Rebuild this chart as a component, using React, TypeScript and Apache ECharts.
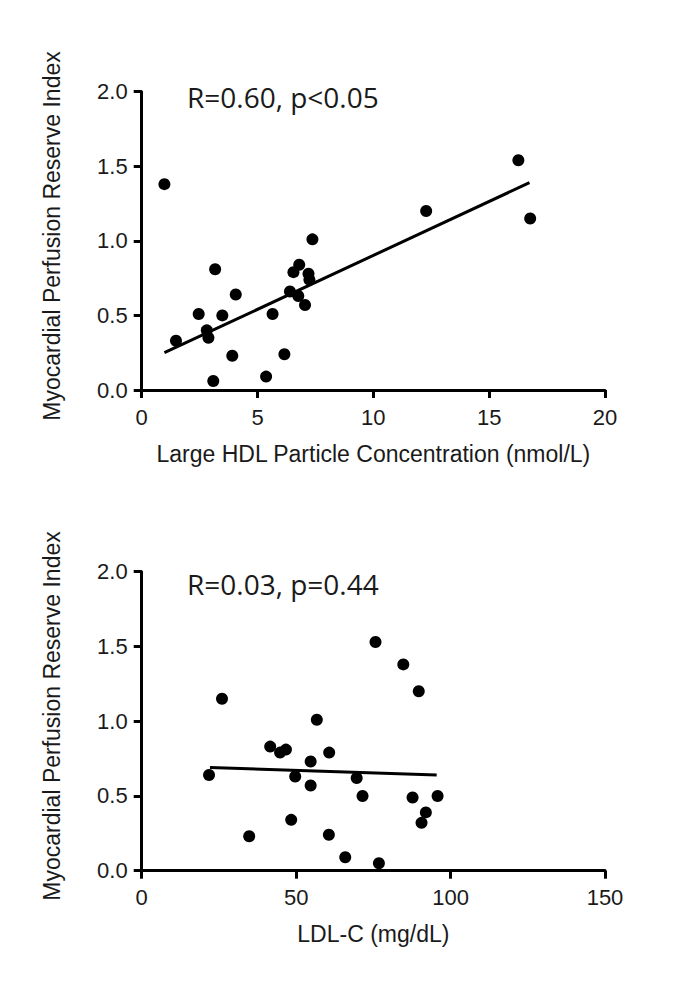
import React, { useEffect, useRef } from "react";
import * as echarts from "echarts";

const hdlX = [0.98, 1.48, 2.46, 2.81, 2.88, 3.17, 3.09, 3.48, 4.06, 3.91, 5.65, 5.37, 6.16, 6.40, 6.55, 6.80, 7.20, 7.24, 6.76, 7.05, 7.37, 12.28, 16.26, 16.77];
const hdlY = [1.38, 0.33, 0.51, 0.40, 0.35, 0.81, 0.06, 0.50, 0.64, 0.23, 0.51, 0.09, 0.24, 0.66, 0.79, 0.84, 0.78, 0.74, 0.63, 0.57, 1.01, 1.20, 1.54, 1.15];
const hdlFitX = [0.98, 16.74];
const hdlFitY = [0.25, 1.39];

const ldlX = [26.0, 21.8, 34.8, 41.6, 44.8, 46.7, 56.7, 48.4, 49.7, 54.7, 54.7, 60.7, 60.6, 65.9, 69.6, 71.5, 75.7, 76.8, 84.7, 89.7, 87.7, 92.0, 90.6, 95.8];
const ldlY = [1.15, 0.64, 0.23, 0.83, 0.79, 0.81, 1.01, 0.34, 0.63, 0.73, 0.57, 0.79, 0.24, 0.09, 0.62, 0.50, 1.53, 0.05, 1.38, 1.20, 0.49, 0.39, 0.32, 0.50];
const ldlFitX = [22.1, 95.5];
const ldlFitY = [0.69, 0.64];

const yTitle = "Myocardial Perfusion Reserve Index";
const xTitleTop = "Large HDL Particle Concentration (nmol/L)";
const xTitleBottom = "LDL-C (mg/dL)";
const statTop = "R=0.60, p<0.05";
const statBottom = "R=0.03, p=0.44";

const FONT = "'Liberation Sans', Arial, sans-serif";
const TXT = "#1a1a1a";

function zip(a: number[], b: number[]) {
  return a.map((v, i) => [v, b[i]]);
}

export default function App() {
  const ref = useRef<HTMLDivElement>(null);
  useEffect(() => {
    const chart = echarts.init(ref.current!, undefined, { renderer: "svg" });
    const axisLine = { show: true, lineStyle: { color: "#000", width: 3 } };
    const axisTick = { show: true, length: 8, lineStyle: { color: "#000", width: 3 } };
    const mkX = (gi: number, max: number, interval: number, name: string) => ({
      type: "value",
      gridIndex: gi,
      min: 0,
      max,
      interval,
      axisLine,
      axisTick,
      splitLine: { show: false },
      axisLabel: { color: TXT, fontFamily: FONT, fontSize: 22, margin: 16 },
      name,
      nameLocation: "middle",
      nameGap: 52,
      nameTextStyle: { color: TXT, fontFamily: FONT, fontSize: 23 },
    });
    const mkY = (gi: number) => ({
      type: "value",
      gridIndex: gi,
      min: 0,
      max: 2,
      interval: 0.5,
      axisLine,
      axisTick,
      splitLine: { show: false },
      axisLabel: {
        color: TXT,
        fontFamily: FONT,
        fontSize: 22,
        margin: 14,
        formatter: (v: number) => v.toFixed(1),
      },
    });
    chart.setOption({
      animation: false,
      backgroundColor: "#fff",
      grid: [
        { left: 141.7, top: 91.7, right: 80, height: 298.3 },
        { left: 141.7, top: 571.7, right: 80, height: 299 },
      ],
      xAxis: [mkX(0, 20, 5, xTitleTop), mkX(1, 150, 50, xTitleBottom)],
      yAxis: [mkY(0), mkY(1)],
      graphic: [
        {
          type: "text",
          x: 52,
          y: 236,
          rotation: Math.PI / 2,
          style: { text: yTitle, fill: TXT, font: `23px ${FONT}`, textAlign: "center", textVerticalAlign: "middle" },
        },
        {
          type: "text",
          x: 52,
          y: 716,
          rotation: Math.PI / 2,
          style: { text: yTitle, fill: TXT, font: `23px ${FONT}`, textAlign: "center", textVerticalAlign: "middle" },
        },
        {
          type: "text",
          x: 187,
          y: 97,
          style: { text: statTop, fill: TXT, font: `28px 'Open Sans', sans-serif`, textAlign: "left", textVerticalAlign: "middle" },
        },
        {
          type: "text",
          x: 187,
          y: 584,
          style: { text: statBottom, fill: TXT, font: `28px 'Open Sans', sans-serif`, textAlign: "left", textVerticalAlign: "middle" },
        },
      ],
      series: [
        {
          type: "scatter",
          xAxisIndex: 0,
          yAxisIndex: 0,
          data: zip(hdlX, hdlY),
          symbolSize: 12,
          itemStyle: { color: "#000", opacity: 1 },
        },
        {
          type: "line",
          xAxisIndex: 0,
          yAxisIndex: 0,
          data: zip(hdlFitX, hdlFitY),
          showSymbol: false,
          lineStyle: { color: "#000", width: 3 },
        },
        {
          type: "scatter",
          xAxisIndex: 1,
          yAxisIndex: 1,
          data: zip(ldlX, ldlY),
          symbolSize: 12,
          itemStyle: { color: "#000", opacity: 1 },
        },
        {
          type: "line",
          xAxisIndex: 1,
          yAxisIndex: 1,
          data: zip(ldlFitX, ldlFitY),
          showSymbol: false,
          lineStyle: { color: "#000", width: 3 },
        },
      ],
    });
    return () => chart.dispose();
  }, []);
  return (
    <div
      ref={ref}
      style={{ position: "fixed", left: 0, top: 0, width: 685, height: 981, background: "#fff" }}
    />
  );
}
